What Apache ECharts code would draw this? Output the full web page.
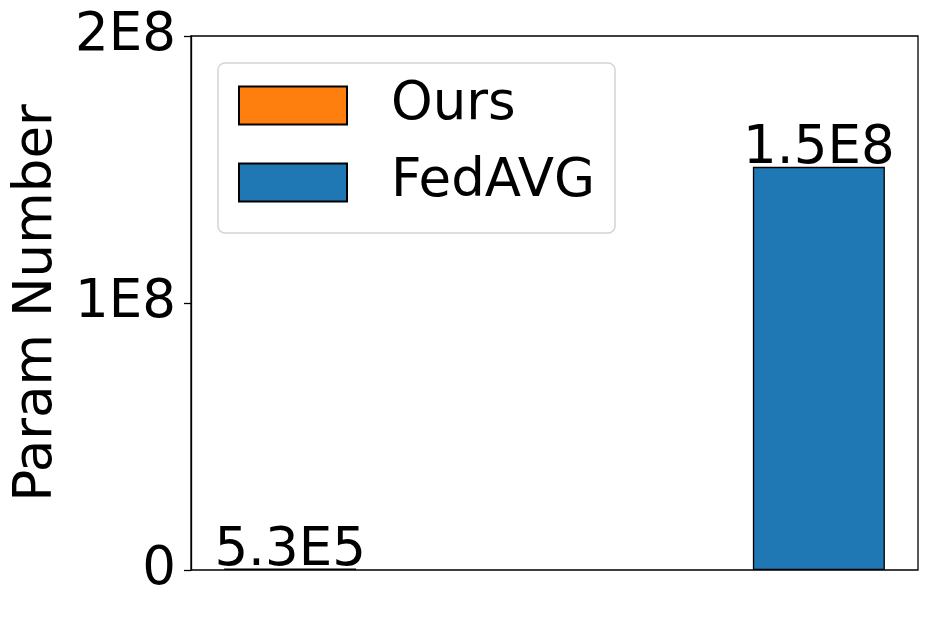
<!DOCTYPE html>
<html>
<head>
<meta charset="utf-8">
<script src="https://cdn.jsdelivr.net/npm/echarts@6/dist/echarts.min.js"></script>
<style>
  html, body { margin: 0; padding: 0; background: #fff; }
  #chart { width: 934px; height: 617px; }
</style>
</head>
<body>
<div id="chart"></div>
<script>
// data
const methods = ["Ours", "FedAVG"];
const positions = [0, 1];
const paramCounts = [5.3e5, 1.51e8];
const valueLabels = ["5.3E5", "1.5E8"];
const colors = ["#ff7f0e", "#1f77b4"];
const yTickLabels = { 0: "0", 100000000: "1E8", 200000000: "2E8" };

const FONT = "DejaVu Sans";
const chart = echarts.init(document.getElementById("chart"), null, { renderer: "canvas" });

const series = methods.map((name, i) => ({
  name: name,
  type: "bar",
  barWidth: 132,
  barGap: "-100%",
  data: [[positions[i], paramCounts[i]]],
  itemStyle: { color: colors[i], borderColor: "#000", borderWidth: 1.3 },
  label: {
    show: true,
    position: "top",
    distance: -9,
    formatter: () => valueLabels[i],
    fontFamily: FONT,
    fontSize: 53,
    color: "#000",
  },
  emphasis: { disabled: true },
}));

chart.setOption({
  animation: false,
  grid: {
    left: 191,
    top: 36,
    width: 727,
    height: 534,
    show: true,
    borderColor: "#000",
    borderWidth: 1.3,
    backgroundColor: "transparent",
  },
  legend: {
    orient: "vertical",
    left: 218,
    top: 63,
    data: methods,
    icon: "rect",
    itemWidth: 108,
    itemHeight: 38,
    itemGap: 24,
    padding: [16, 20, 24, 20],
    backgroundColor: "#fff",
    borderColor: "#d4d4d4",
    borderWidth: 1.5,
    borderRadius: 7,
    textStyle: {
      fontFamily: FONT,
      fontSize: 53,
      lineHeight: 38,
      color: "#000",
      padding: [0, 0, 0, 39],
    },
  },
  xAxis: {
    type: "value",
    min: -0.1875,
    max: 1.1875,
    axisLine: { show: false },
    axisTick: { show: false },
    axisLabel: { show: false },
    splitLine: { show: false },
  },
  yAxis: {
    type: "value",
    min: 0,
    max: 2e8,
    interval: 1e8,
    name: "Param Number",
    nameLocation: "middle",
    nameGap: 126,
    nameTextStyle: { fontFamily: FONT, fontSize: 53, color: "#000" },
    axisLine: { show: true, onZero: false, lineStyle: { color: "#000", width: 1.3 } },
    axisTick: { show: true, length: 7, lineStyle: { color: "#000", width: 1.3 } },
    axisLabel: {
      fontFamily: FONT,
      fontSize: 53,
      color: "#000",
      margin: 15,
      formatter: (v) => yTickLabels[v] ?? "",
    },
    splitLine: { show: false },
  },
  series: series,
});
</script>
</body>
</html>
